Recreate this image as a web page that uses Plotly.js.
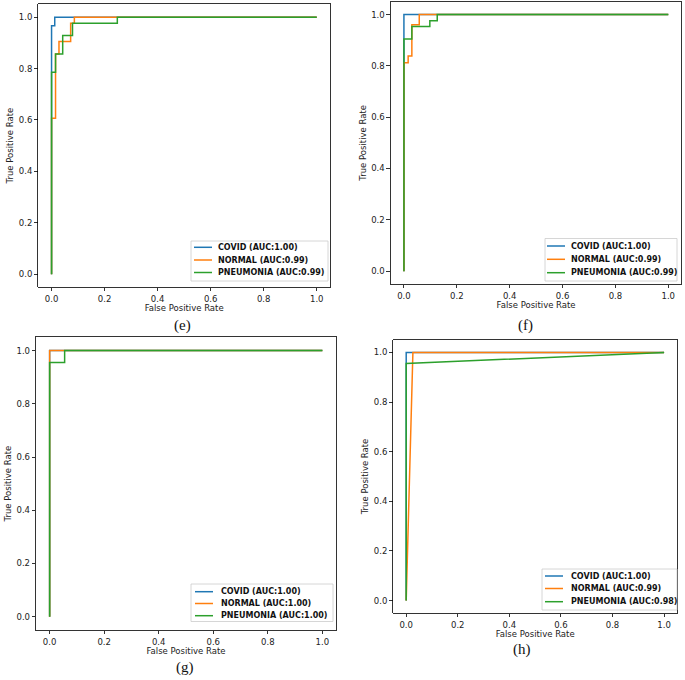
<!DOCTYPE html>
<html><head><meta charset="utf-8">
<script src="https://cdn.plot.ly/plotly-3.0.1.min.js"></script>
<style>html,body{margin:0;padding:0;background:#fff}#chart{width:685px;height:680px}</style>
</head><body><div id="chart"></div>
<script>
// ---------- data ----------
const classNames = ['COVID', 'NORMAL', 'PNEUMONIA'];
const classColors = ['#1f77b4', '#ff7f0e', '#2ca02c'];
const panelLabels = ['(e)', '(f)', '(g)', '(h)'];
const tickValues = [0, 0.2, 0.4, 0.6, 0.8, 1.0];
const tickLabels = ['0.0', '0.2', '0.4', '0.6', '0.8', '1.0'];
const xTitle = 'False Positive Rate';
const yTitle = 'True Positive Rate';

const aucE = ['1.00', '0.99', '0.99'];
const aucF = ['1.00', '0.99', '0.99'];
const aucG = ['1.00', '1.00', '1.00'];
const aucH = ['1.00', '0.99', '0.98'];

// panel (e)
const covidE_fpr = [0, 0, 0.012, 0.012, 1];
const covidE_tpr = [0, 0.967, 0.967, 1, 1];
const normalE_fpr = [0, 0, 0.015, 0.015, 0.028, 0.028, 0.072, 0.072, 0.086, 0.086, 1];
const normalE_tpr = [0, 0.607, 0.607, 0.857, 0.857, 0.905, 0.905, 0.976, 0.976, 1, 1];
const pneuE_fpr = [0, 0, 0.015, 0.015, 0.042, 0.042, 0.079, 0.079, 0.248, 0.248, 1];
const pneuE_tpr = [0, 0.786, 0.786, 0.857, 0.857, 0.929, 0.929, 0.976, 0.976, 1, 1];

// panel (f)
const covidF_fpr = [0, 0, 1];
const covidF_tpr = [0, 1, 1];
const normalF_fpr = [0, 0, 0.016, 0.016, 0.03, 0.03, 0.058, 0.058, 1];
const normalF_tpr = [0, 0.812, 0.812, 0.838, 0.838, 0.96, 0.96, 1, 1];
const pneuF_fpr = [0, 0, 0.03, 0.03, 0.098, 0.098, 0.126, 0.126, 1];
const pneuF_tpr = [0, 0.905, 0.905, 0.953, 0.953, 0.976, 0.976, 1, 1];

// panel (g)
const covidG_fpr = [0, 0, 1];
const covidG_tpr = [0, 1, 1];
const normalG_fpr = [0, 0, 1];
const normalG_tpr = [0, 1, 1];
const pneuG_fpr = [0, 0, 0.055, 0.055, 1];
const pneuG_tpr = [0, 0.955, 0.955, 1, 1];

// panel (h)
const covidH_fpr = [0, 0, 1];
const covidH_tpr = [0, 1, 1];
const normalH_fpr = [0, 0.026, 1];
const normalH_tpr = [0, 1, 1];
const pneuH_fpr = [0, 0, 1];
const pneuH_tpr = [0, 0.955, 1];

// ---------- layout helpers ----------
const W = 685, H = 680;
const px = v => v / W;
const py = v => 1 - v / H;

const panels = [
  {fpr: [covidE_fpr, normalE_fpr, pneuE_fpr], tpr: [covidE_tpr, normalE_tpr, pneuE_tpr], auc: aucE,
   box: [38.3, 4.3, 330, 287], leg: [191, 241, 328, 281], rows: [247.3, 260, 272.5], lineX: [194, 212], textX: 216,
   label: [183, 325]},
  {fpr: [covidF_fpr, normalF_fpr, pneuF_fpr], tpr: [covidF_tpr, normalF_tpr, pneuF_tpr], auc: aucF,
   box: [390.7, 1.7, 681.5, 284], leg: [545, 238.5, 677, 281], rows: [246, 259.3, 272.7], lineX: [547, 565], textX: 569,
   label: [525, 325]},
  {fpr: [covidG_fpr, normalG_fpr, pneuG_fpr], tpr: [covidG_tpr, normalG_tpr, pneuG_tpr], auc: aucG,
   box: [36, 337.3, 336, 630], leg: [191, 584, 333, 621.5], rows: [591.7, 603.5, 615.7], lineX: [195, 213], textX: 219,
   label: [185, 667]},
  {fpr: [covidH_fpr, normalH_fpr, pneuH_fpr], tpr: [covidH_tpr, normalH_tpr, pneuH_tpr], auc: aucH,
   box: [393.3, 340, 677, 613], leg: [542, 569, 677, 610], rows: [576, 588.5, 601.7], lineX: [545, 563], textX: 569,
   label: [522, 649]}
];

const tickFont = {family: 'DejaVu Sans, sans-serif', size: 8.5, color: '#222'};
const titleFont = {family: 'DejaVu Sans, sans-serif', size: 8.5, color: '#222'};

const traces = [];
const layout = {
  width: W, height: H,
  margin: {l: 0, r: 0, t: 0, b: 0},
  paper_bgcolor: '#fff', plot_bgcolor: '#fff',
  showlegend: false,
  shapes: [], annotations: []
};

panels.forEach((p, i) => {
  const n = i === 0 ? '' : String(i + 1);
  const xa = 'xaxis' + n, ya = 'yaxis' + n;
  const common = {
    range: [-0.05, 1.05], tickvals: tickValues, ticktext: tickLabels,
    ticks: 'outside', ticklen: 3.5, tickwidth: 0.8, tickcolor: '#000',
    showline: true, linecolor: '#000', linewidth: 0.8, mirror: true,
    showgrid: false, zeroline: false, tickfont: tickFont, fixedrange: true
  };
  layout[xa] = Object.assign({}, common, {
    domain: [px(p.box[0]), px(p.box[2])], anchor: 'y' + n,
    title: {text: xTitle, font: titleFont, standoff: 2}
  });
  layout[ya] = Object.assign({}, common, {
    domain: [py(p.box[3]), py(p.box[1])], anchor: 'x' + n,
    title: {text: yTitle, font: titleFont, standoff: 3}
  });
  classNames.forEach((c, k) => {
    traces.push({
      type: 'scatter', mode: 'lines',
      x: p.fpr[k], y: p.tpr[k],
      xaxis: 'x' + n, yaxis: 'y' + n,
      name: c + ' (AUC:' + p.auc[k] + ')',
      line: {color: classColors[k], width: 1.5},
      hoverinfo: 'skip'
    });
  });
  // legend box
  layout.shapes.push({
    type: 'rect', xref: 'paper', yref: 'paper',
    x0: px(p.leg[0]), x1: px(p.leg[2]), y0: py(p.leg[3]), y1: py(p.leg[1]),
    line: {color: '#cccccc', width: 0.8}, fillcolor: 'rgba(255,255,255,0.85)', layer: 'above'
  });
  classNames.forEach((c, k) => {
    layout.shapes.push({
      type: 'line', xref: 'paper', yref: 'paper',
      x0: px(p.lineX[0]), x1: px(p.lineX[1]), y0: py(p.rows[k]), y1: py(p.rows[k]),
      line: {color: classColors[k], width: 1.5}, layer: 'above'
    });
    layout.annotations.push({
      xref: 'paper', yref: 'paper', x: px(p.textX), y: py(p.rows[k]),
      xanchor: 'left', yanchor: 'middle', showarrow: false,
      text: '<b>' + c + ' (AUC:' + p.auc[k] + ')</b>',
      font: {family: 'DejaVu Sans, sans-serif', size: 8, color: '#111'}
    });
  });
  layout.annotations.push({
    xref: 'paper', yref: 'paper', x: px(p.label[0]), y: py(p.label[1]),
    xanchor: 'center', yanchor: 'middle', showarrow: false,
    text: panelLabels[i],
    font: {family: 'Liberation Serif, Times New Roman, serif', size: 15, color: '#111'}
  });
});

Plotly.newPlot('chart', traces, layout, {displayModeBar: false, staticPlot: true});
</script>
</body></html>
